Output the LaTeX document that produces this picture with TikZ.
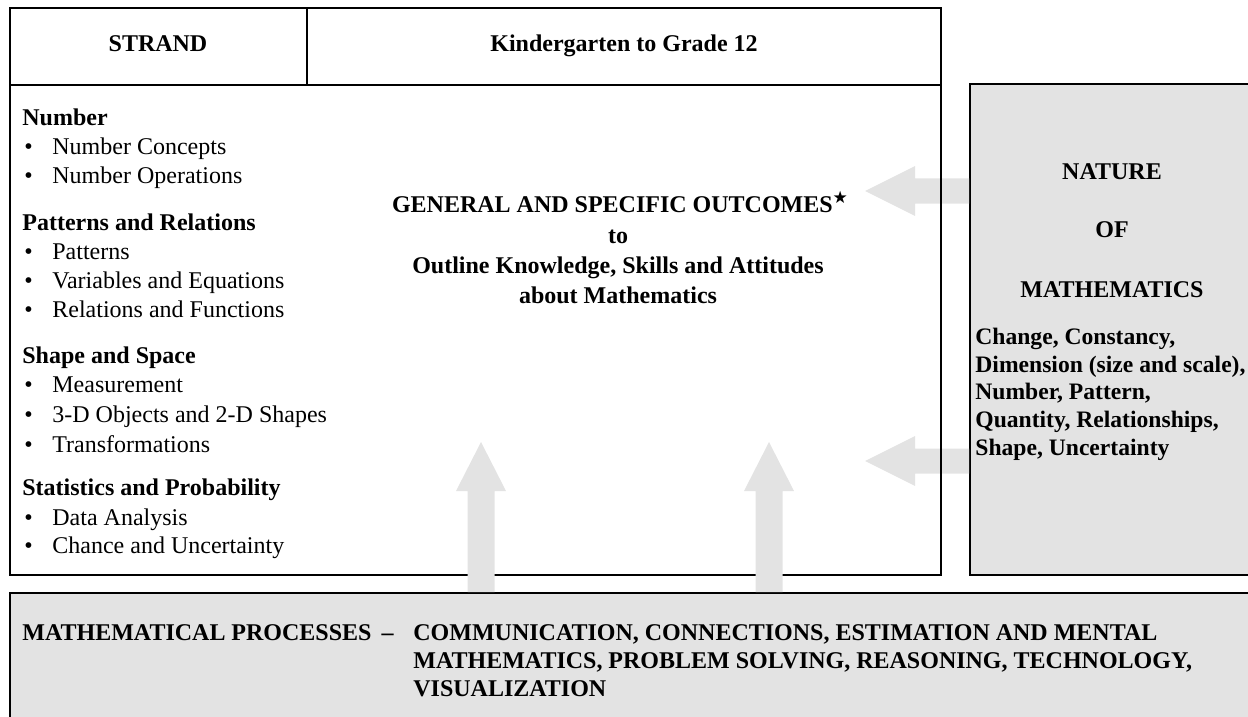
\documentclass[tikz,border=0pt]{standalone}
\usepackage{fontspec}
\setmainfont{Liberation Serif}
\newfontfamily\symfont{DejaVu Sans}
\definecolor{boxgray}{HTML}{E3E3E3}
\tikzset{
  frame/.style={draw=black, line width=1pt},
  grayframe/.style={fill=boxgray, draw=black, line width=1pt},
  blockarrow/.style={fill=boxgray, draw=none},
  txt/.style={anchor=base west, inner sep=0pt, font=\fontsize{12}{14}\selectfont},
  btxt/.style={anchor=base west, inner sep=0pt, font=\fontsize{12}{14}\selectfont\bfseries},
  rtxt/.style={anchor=base west, inner sep=0pt, font=\fontsize{11.8}{14}\selectfont\bfseries},
  ctxt/.style={anchor=base, inner sep=0pt, font=\fontsize{12}{14}\selectfont\bfseries},
}
\begin{document}
\begin{tikzpicture}[x=0.5pt,y=-0.5pt]
\useasboundingbox (0,0) rectangle (1248,717);
% named corners
\coordinate (tab-nw) at (10,8);
\coordinate (tab-se) at (941,575);
\coordinate (hdr-w) at (10,85);
\coordinate (hdr-e) at (941,85);
\coordinate (div-top) at (307,8);
\coordinate (div-bot) at (307,85);
\coordinate (nat-nw) at (970,84);
\coordinate (nat-se) at (1258,575);
\coordinate (proc-nw) at (10,593);
\coordinate (proc-se) at (1260,740);
% bottom and right grey boxes
\path[grayframe] (proc-nw) rectangle (proc-se);
\path[grayframe] (nat-nw) rectangle (nat-se);
% left-pointing block arrows (behind table border)
\coordinate (arrA) at (865,191);
\coordinate (arrB) at (865,461);
\fill[blockarrow] (arrA) -- ++(50,-25) -- ++(0,12.5) -- ++(54,0) -- ++(0,25) -- ++(-54,0) -- ++(0,12.5) -- cycle;
\fill[blockarrow] (arrB) -- ++(50,-25) -- ++(0,12.5) -- ++(54,0) -- ++(0,25) -- ++(-54,0) -- ++(0,12.5) -- cycle;
% main table
\draw[frame] (tab-nw) rectangle (tab-se);
\draw[frame] (hdr-w) -- (hdr-e);
\draw[frame] (div-top) -- (div-bot);
% upward block arrows (over table bottom border)
\coordinate (arrC) at (481,442);
\coordinate (arrD) at (769,442);
\fill[blockarrow] (arrC) -- ++(25,49) -- ++(-11.5,0) -- ++(0,101) -- ++(-27,0) -- ++(0,-101) -- ++(-11.5,0) -- cycle;
\fill[blockarrow] (arrD) -- ++(25,49) -- ++(-11.5,0) -- ++(0,101) -- ++(-27,0) -- ++(0,-101) -- ++(-11.5,0) -- cycle;
% header
\node[ctxt] (strand) at (158,52) {STRAND};
\node[ctxt] (grades) at (624,52) {Kindergarten to Grade 12};
% strands
\node[btxt] (h1) at (22,126) {Number};
\node[txt] (b1) at (24,155) {\textbullet}; \node[txt] (i1) at (52,155) {Number Concepts};
\node[txt] (b2) at (24,184) {\textbullet}; \node[txt] (i2) at (52,184) {Number Operations};
\node[btxt] (h2) at (22,230) {Patterns and Relations};
\node[txt] (b3) at (24,259) {\textbullet}; \node[txt] (i3) at (52,259) {Patterns};
\node[txt] (b4) at (24,288) {\textbullet}; \node[txt] (i4) at (52,288) {Variables and Equations};
\node[txt] (b5) at (24,317) {\textbullet}; \node[txt] (i5) at (52,317) {Relations and Functions};
\node[btxt] (h3) at (22,363) {Shape and Space};
\node[txt] (b6) at (24,392) {\textbullet}; \node[txt] (i6) at (52,392) {Measurement};
\node[txt] (b7) at (24,422) {\textbullet}; \node[txt] (i7) at (52,422) {3-D Objects and 2-D Shapes};
\node[txt] (b8) at (24,452) {\textbullet}; \node[txt] (i8) at (52,452) {Transformations};
\node[btxt] (h4) at (22,495) {Statistics and Probability};
\node[txt] (b9) at (24,525) {\textbullet}; \node[txt] (i9) at (52,525) {Data Analysis};
\node[txt] (b10) at (24,553) {\textbullet}; \node[txt] (i10) at (52,553) {Chance and Uncertainty};
% outcomes
\node[ctxt] (out1) at (620,213) {GENERAL AND SPECIFIC OUTCOMES\raisebox{4.5pt}{\symfont\fontsize{8.5}{9}\selectfont ★}};
\node[ctxt] (out2) at (618,243) {to};
\node[ctxt] (out3) at (618,273) {Outline Knowledge, Skills and Attitudes};
\node[ctxt] (out4) at (618,303) {about Mathematics};
% nature of mathematics
\node[ctxt] (nat1) at (1112,179) {NATURE};
\node[ctxt] (nat2) at (1112,237) {OF};
\node[ctxt] (nat3) at (1112,297) {MATHEMATICS};
\node[rtxt] (nat4) at (975,344) {Change, Constancy,};
\node[rtxt] (nat5) at (975,372) {Dimension (size and scale),};
\node[rtxt] (nat6) at (975,399) {Number, Pattern,};
\node[rtxt] (nat7) at (975,427) {Quantity, Relationships,};
\node[rtxt] (nat8) at (975,455) {Shape, Uncertainty};
% processes
\node[btxt] (proc0) at (22,640) {MATHEMATICAL PROCESSES \,–};
\node[btxt] (proc1) at (413,640) {COMMUNICATION, CONNECTIONS, ESTIMATION AND MENTAL};
\node[btxt] (proc2) at (413,668) {MATHEMATICS, PROBLEM SOLVING, REASONING, TECHNOLOGY,};
\node[btxt] (proc3) at (413,696) {VISUALIZATION};
\end{tikzpicture}
\end{document}
